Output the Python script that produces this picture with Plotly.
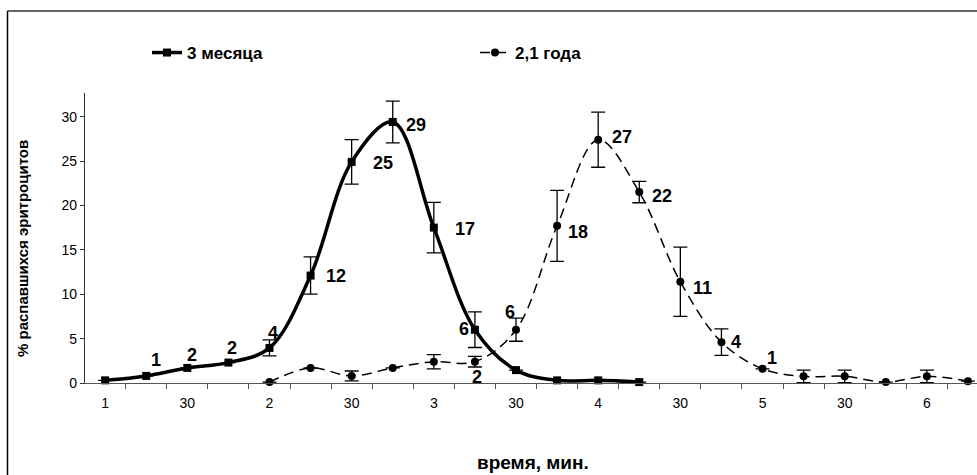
import plotly.graph_objects as go

# ---- data ----
categories = list(range(22))  # 1:00, 1:15, ... 6:15 min
tick_positions = [0, 2, 4, 6, 8, 10, 12, 14, 16, 18, 20]
tick_labels = ["1", "30", "2", "30", "3", "30", "4", "30", "5", "30", "6"]

months3_x = list(range(0, 14))
months3_y = [0.3, 0.8, 1.7, 2.3, 3.95, 12.1, 24.9, 29.4, 17.5, 6.0, 1.45, 0.3, 0.3, 0.1]
months3_err = [0, 0, 0, 0, 0.9, 2.1, 2.5, 2.35, 2.85, 2.0, 0, 0, 0, 0]
months3_labels = ["", "1", "2", "2", "4", "12", "25", "29", "17", "6", "", "", "", ""]

years21_x = list(range(4, 22))
years21_y = [0.1, 1.7, 0.8, 1.7, 2.4, 2.4, 6.0, 17.7, 27.4, 21.5, 11.4, 4.6, 1.6, 0.75, 0.75, 0.1, 0.75, 0.2]
years21_err = [0, 0, 0.55, 0, 0.8, 0.6, 1.3, 4.0, 3.1, 1.2, 3.9, 1.5, 0, 0.7, 0.7, 0, 0.7, 0]
years21_labels = ["", "", "", "", "", "2", "6", "18", "27", "22", "11", "4", "1", "", "", "", "", ""]

# label offsets in px (style, not data)
months3_off = [(0, 0), (10, 16), (5, 13), (4, 15), (4, 15), (25, 0), (31, -1), (23, -3), (31, -1), (-11, 1),
               (0, 0), (0, 0), (0, 0), (0, 0)]
years21_off = [(0, 0)] * 5 + [(2, -15), (-6, 18), (21, -6), (24, 3), (23, -4), (22, -6), (15, 0), (9, 11)] + [(0, 0)] * 5

FONT = "Liberation Sans, Arial, sans-serif"

fig = go.Figure()
fig.add_trace(go.Scatter(
    x=months3_x, y=months3_y, name="3 месяца", mode="lines+markers",
    line=dict(color="black", width=3.5, shape="spline", smoothing=1),
    marker=dict(symbol="square", size=8, color="black"),
    error_y=dict(type="data", array=months3_err, visible=True, color="black", thickness=1.3, width=7),
    cliponaxis=False,
))
fig.add_trace(go.Scatter(
    x=years21_x, y=years21_y, name="2,1 года", mode="lines+markers",
    line=dict(color="black", width=1.5, shape="spline", smoothing=1, dash="10px,6px"),
    marker=dict(symbol="circle", size=8, color="black"),
    error_y=dict(type="data", array=years21_err, visible=True, color="black", thickness=1.3, width=7),
    cliponaxis=False,
))

annotations = []
for xs, ys, labs, offs in [(months3_x, months3_y, months3_labels, months3_off),
                           (years21_x, years21_y, years21_labels, years21_off)]:
    for xv, yv, t, (dx, dy) in zip(xs, ys, labs, offs):
        if t:
            annotations.append(dict(x=xv, y=yv, text=t, showarrow=False, xshift=dx, yshift=dy,
                                    font=dict(family=FONT, size=18, color="black", weight="bold")))

PL, PT, PB = 85, 93, 92
PW = 977 - PL
PH = 475 - PT - PB

def px_x(p):
    return (p - PL) / PW

def px_y(p):
    return (475 - PB - p) / PH

annotations.append(dict(xref="paper", yref="paper", x=px_x(533), y=px_y(462), xanchor="center", yanchor="middle",
                        text="время, мин.", showarrow=False,
                        font=dict(family=FONT, size=19, color="black", weight="bold")))
annotations.append(dict(xref="paper", yref="paper", x=px_x(22), y=px_y(249), xanchor="center", yanchor="middle",
                        text="% распавшихся эритроцитов",
                        showarrow=False, textangle=-90, font=dict(family=FONT, size=15, color="black", weight="bold")))

shapes = [
    dict(type="line", xref="paper", yref="paper", x0=px_x(7.5), x1=px_x(977), y0=px_y(11), y1=px_y(11),
         line=dict(color="#333", width=1.5)),
    dict(type="line", xref="paper", yref="paper", x0=px_x(7.5), x1=px_x(7.5), y0=px_y(11), y1=px_y(475),
         line=dict(color="black", width=1.5)),
]

fig.update_layout(
    width=977, height=475,
    margin=dict(l=PL, r=0, t=PT, b=PB),
    paper_bgcolor="white", plot_bgcolor="white",
    font=dict(family=FONT, color="black"),
    showlegend=True,
    legend=dict(orientation="h", x=px_x(147), y=px_y(53), xanchor="left", yanchor="middle",
                entrywidth=283, entrywidthmode="pixels",
                font=dict(family=FONT, size=17, color="black", weight="bold"),
                bgcolor="rgba(0,0,0,0)"),
    xaxis=dict(range=[-0.49, 21.22], tickmode="array", tickvals=tick_positions, ticktext=tick_labels,
               ticks="", showgrid=False, zeroline=False, showline=True, linecolor="#555", linewidth=1.2,
               ticklabelstandoff=7,
               tickfont=dict(family=FONT, size=14, color="black"),
               minor=dict(tickmode="array", tickvals=[i - 0.5 for i in range(23)], ticks="outside",
                          ticklen=5, tickcolor="#555", showgrid=False)),
    yaxis=dict(range=[0, 32.66], tickmode="array", tickvals=[0, 5, 10, 15, 20, 25, 30],
               ticks="outside", ticklen=4, tickcolor="#333", showgrid=False, zeroline=False,
               showline=True, linecolor="#333", linewidth=1.2,
               tickfont=dict(family=FONT, size=14, color="black")),
    annotations=annotations,
    shapes=shapes,
)

fig.write_html("out.html")
